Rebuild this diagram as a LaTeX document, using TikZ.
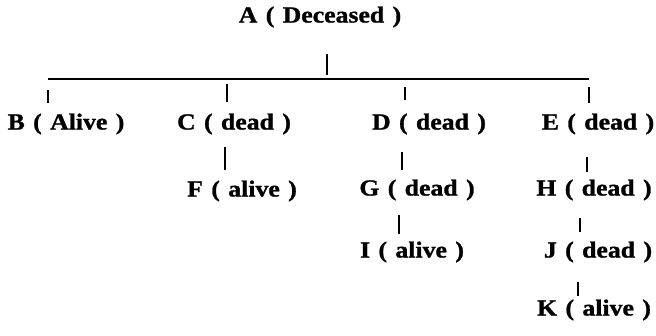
\documentclass[tikz,border=0pt]{standalone}
\usepackage{fontspec}
\setmainfont[WordSpace=1.3, FakeStretch=1.12, BoldFeatures={FakeBold=1.2}]{Liberation Serif}
\usepackage{tikz}
\usetikzlibrary{positioning}

\begin{document}
\begin{tikzpicture}[x=1pt, y=-1pt,
  every node/.style={font=\fontsize{23}{26}\selectfont\bfseries, inner sep=0pt},
  link/.style={line width=2.4pt},
  bar/.style={line width=1.6pt}]
\useasboundingbox (0,0) rectangle (656,336);

% Deceased
\node (A) at (320,17) {A ( Deceased )};

% Children
\node (B) at (66,124)  {B ( Alive )};
\node (C) at (234,124) {C ( dead )};
\node (D) at (429,124) {D ( dead )};
\node (E) at (598,124) {E ( dead )};

% Grandchildren and further
\node (F) at (242,191) {F ( alive )};
\node (G) at (417,190) {G ( dead )};
\node (H) at (594,190) {H ( dead )};
\node (I) at (412,252) {I ( alive )};
\node (J) at (598,252) {J ( dead )};
\node (K) at (594,310) {K ( alive )};

% Bar joining the children
\coordinate (barB) at (48,79);
\coordinate (barC) at (227,79);
\coordinate (barA) at (327,79);
\coordinate (barD) at (405,79);
\coordinate (barE) at (589,79);
\draw[bar] (barB) -- (barE);

\draw[link, shorten <=26pt, shorten >=4pt] ([xshift=7pt]A.south) -- (barA);
\draw[link, shorten <=11pt, shorten >=10pt] (barB) -- ([xshift=-18pt]B.north);
\draw[link, shorten <=5pt, shorten >=11pt] (barC) -- ([xshift=-7pt]C.north);
\draw[link, shorten <=8pt, shorten >=13pt] (barD) -- ([xshift=-24pt]D.north);
\draw[link, shorten <=8pt, shorten >=10pt] (barE) -- ([xshift=-9pt]E.north);

% Lines of descent
\draw[link, shorten <=12pt, shorten >=10pt] ([xshift=-9pt]C.south) -- ([xshift=-17pt]F.north);
\draw[link, shorten <=17pt, shorten >=9pt] ([xshift=-27pt]D.south) -- ([xshift=-15pt]G.north);
\draw[link, shorten <=14pt, shorten >=7pt] ([xshift=-18pt]G.south) -- ([xshift=-13pt]I.north);
\draw[link, shorten <=22pt, shorten >=7pt] ([xshift=-11pt]E.south) -- ([xshift=-7pt]H.north);
\draw[link, shorten <=17pt, shorten >=9pt] ([xshift=-14pt]H.south) -- ([xshift=-18pt]J.north);
\draw[link, shorten <=19pt, shorten >=3pt] ([xshift=-20pt]J.south) -- ([xshift=-16pt]K.north);

\end{tikzpicture}
\end{document}
